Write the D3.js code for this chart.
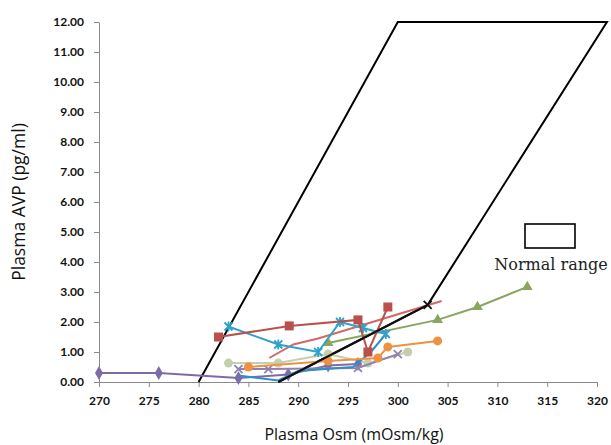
<!DOCTYPE html>
<html>
<head>
<script src="https://d3js.org/d3.v7.min.js"></script>
<style>
  body { margin: 0; background: #fff; }
  svg { display: block; }
</style>
</head>
<body>
<svg id="chart" width="611" height="445"></svg>
<script>
// axis ticks
var xTicks = [270, 275, 280, 285, 290, 295, 300, 305, 310, 315, 320];
var yTicks = [0, 1, 2, 3, 4, 5, 6, 7, 8, 9, 10, 11, 12];

// normal range outline (osm, avp)
var normalRange = [[280, 0], [300, 12], [321, 12], [303, 2.57], [288, 0]];

// patient series
var purpleDiamond = [[270, 0.3], [276, 0.3], [284, 0.13], [289, 0.25], [293, 0.55], [296, 0.6]];
var redSquare = [[282, 1.5], [289.1, 1.87], [296, 2.07], [297, 1.0], [299, 2.5]];
var redLine = [[287.1, 0.8], [289.5, 1.25], [292, 1.45], [304.4, 2.7]];
var greenTri = [[293, 1.3], [304, 2.07], [308, 2.5], [313, 3.17]];
var lavenderX = [[284, 0.43], [287, 0.43], [296, 0.47], [300, 0.93]];
var cyanStar = [[283, 1.85], [288, 1.25], [292, 1.0], [294.2, 2.0], [296.5, 1.8], [298.8, 1.6]];
var blueLine = [[284, 0.22], [288, 0.05], [290, 0.37], [295.5, 0.5], [297.3, 1.0], [298.8, 1.6]];
var orangeDot = [[285, 0.5], [293, 0.7], [298, 0.8], [299, 1.17], [304, 1.37]];
var sageDot = [[283, 0.63], [288, 0.63], [293, 0.93], [297, 0.63], [301, 1.0]];
var blackX = [[288, 0], [303, 2.57]];

var series = [
  {data: sageDot, color: "#c4cfae", marker: "circle"},
  {data: purpleDiamond, color: "#7f6aa8", marker: "diamond"},
  {data: lavenderX, color: "#8f82ad", marker: "cross"},
  {data: blueLine, color: "#2e8fc6", marker: null},
  {data: orangeDot, color: "#ee9240", marker: "circle"},
  {data: redLine, color: "#cf6a66", marker: null},
  {data: greenTri, color: "#8aa55e", marker: "triangle"},
  {data: cyanStar, color: "#2ea3c9", marker: "star"},
  {data: redSquare, color: "#b9504c", marker: "square"},
  {data: blackX, color: "#111", marker: "cross", lastOnly: true}
];

var svg = d3.select("#chart");
var x = d3.scaleLinear().domain([270, 320]).range([99, 597]);
var y = d3.scaleLinear().domain([0, 12]).range([382, 22]);

// axes
var xAxis = svg.append("g").attr("transform", "translate(0,382)")
  .call(d3.axisBottom(x).tickValues(xTicks).tickSize(5).tickSizeOuter(0));
var yAxis = svg.append("g").attr("transform", "translate(99,0)")
  .call(d3.axisLeft(y).tickValues(yTicks).tickSize(5).tickSizeOuter(0)
    .tickFormat(d3.format(".2f")));
[xAxis, yAxis].forEach(function(a) {
  a.select(".domain").attr("stroke", "#8a8a8a");
  a.selectAll(".tick line").attr("stroke", "#8a8a8a");
  a.selectAll("text").attr("fill", "#111")
    .style("font-family", "Lato, 'Open Sans', sans-serif")
    .style("font-weight", "bold").style("font-size", "12px");
});
xAxis.selectAll("text").attr("dy", "1.25em");
yAxis.selectAll("text").attr("x", -15);

var line = d3.line().x(function(d) { return x(d[0]); }).y(function(d) { return y(d[1]); });

// normal range polygon
svg.append("path").datum(normalRange).attr("d", line)
  .attr("fill", "none").attr("stroke", "#000").attr("stroke-width", 2)
  .attr("stroke-linejoin", "miter");

function drawMarker(g, type, color) {
  if (type === "circle") {
    g.append("circle").attr("r", 4.5).attr("fill", color);
  } else if (type === "square") {
    g.append("rect").attr("x", -4.5).attr("y", -4.5).attr("width", 9).attr("height", 9)
      .attr("fill", color);
  } else if (type === "diamond") {
    g.append("path").attr("d", d3.symbol(d3.symbolDiamond, 55)()).attr("fill", color);
  } else if (type === "triangle") {
    g.append("path").attr("d", d3.symbol(d3.symbolTriangle, 50)()).attr("fill", color);
  } else if (type === "cross") {
    g.append("path").attr("d", "M-4,-4L4,4M-4,4L4,-4")
      .attr("stroke", color).attr("stroke-width", 1.8);
  } else if (type === "star") {
    g.append("path").attr("d", "M-4,-4L4,4M-4,4L4,-4M0,-5L0,5")
      .attr("stroke", color).attr("stroke-width", 1.8);
  }
}

series.forEach(function(s) {
  svg.append("path").datum(s.data).attr("d", line)
    .attr("fill", "none").attr("stroke", s.color).attr("stroke-width", 2);
  if (!s.marker) return;
  var pts = s.lastOnly ? s.data.slice(-1) : s.data;
  pts.forEach(function(p) {
    var g = svg.append("g").attr("transform", "translate(" + x(p[0]) + "," + y(p[1]) + ")");
    drawMarker(g, s.marker, s.color);
  });
});

// legend
svg.append("rect").attr("x", 525).attr("y", 224).attr("width", 50).attr("height", 24)
  .attr("fill", "#fff").attr("stroke", "#000").attr("stroke-width", 1.6);
svg.append("text").attr("x", 551).attr("y", 270).attr("text-anchor", "middle")
  .style("font-family", "'DejaVu Serif', 'Liberation Serif', serif").style("font-size", "16px")
  .attr("fill", "#222").text("Normal range");

// axis titles
svg.append("text").attr("transform", "translate(25,202) rotate(-90)")
  .attr("text-anchor", "middle")
  .style("font-family", "'Open Sans', Lato, sans-serif").style("font-size", "17.5px")
  .attr("fill", "#111").text("Plasma AVP (pg/ml)");
svg.append("text").attr("x", 354).attr("y", 440).attr("text-anchor", "middle")
  .style("font-family", "'Open Sans', Lato, sans-serif").style("font-size", "16px")
  .attr("fill", "#111").text("Plasma Osm (mOsm/kg)");
</script>
</body>
</html>
